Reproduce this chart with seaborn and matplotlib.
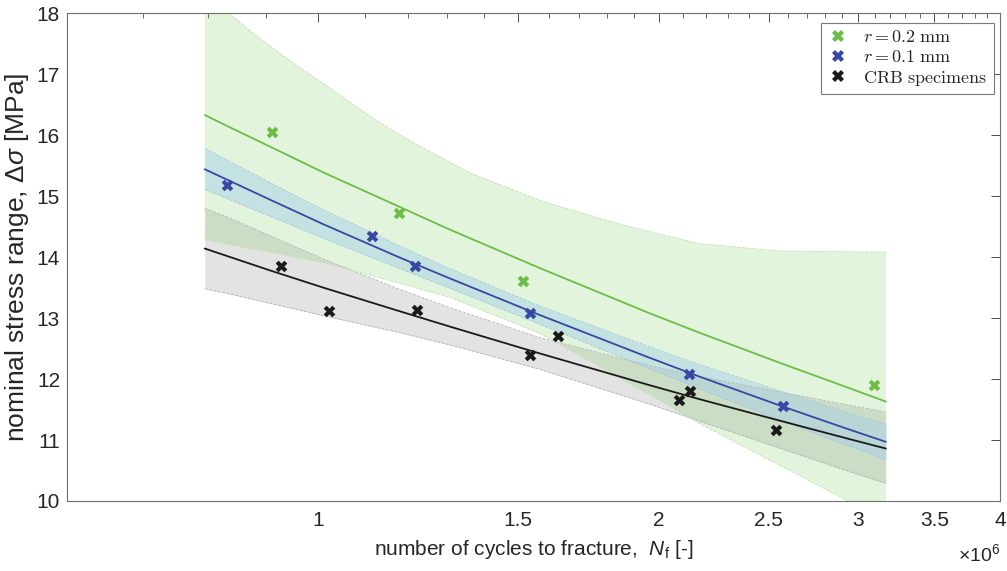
import numpy as np
import matplotlib
matplotlib.use("Agg")
import matplotlib.pyplot as plt
from matplotlib.ticker import FixedLocator, NullFormatter, FixedFormatter
from matplotlib.lines import Line2D
import seaborn as sns

# ---------------- data ----------------
# fitted curves / confidence bands, sampled along N (cycles)
nf_grid = [0.794e6, 0.833e6, 0.907e6, 1.010e6, 1.181e6, 1.307e6,
           1.569e6, 1.961e6, 2.171e6, 2.553e6, 2.925e6, 3.172e6]

green_fit = [16.33, 16.14, 15.81, 15.39, 14.82, 14.45, 13.82, 13.08, 12.76, 12.27, 11.87, 11.63]
green_lower = [14.29, 14.21, 14.08, 13.91, 13.57, 13.34, 12.75, 11.75, 11.27, 10.59, 10.02, 9.67]
# upper bound of the r = 0.2 mm band, read at its own N positions
green_up_N = [0.794e6, 0.833e6, 0.889e6, 0.951e6, 1.052e6, 1.123e6, 1.205e6,
              1.361e6, 1.569e6, 1.845e6, 2.171e6, 2.553e6, 3.172e6]
green_upper = [18.30, 18.00, 17.58, 17.18, 16.62, 16.25, 15.91,
               15.38, 14.93, 14.54, 14.22, 14.10, 14.08]

blue_fit = [15.44, 15.26, 14.94, 14.54, 13.99, 13.65, 13.05, 12.35, 12.04, 11.57, 11.19, 10.97]
blue_upper = [15.78, 15.58, 15.22, 14.78, 14.18, 13.81, 13.20, 12.53, 12.24, 11.81, 11.46, 11.26]
blue_lower = [15.11, 14.95, 14.67, 14.31, 13.81, 13.49, 12.90, 12.17, 11.84, 11.33, 10.92, 10.68]

crb_fit = [14.14, 14.01, 13.78, 13.50, 13.11, 12.86, 12.42, 11.90, 11.67, 11.32, 11.03, 10.86]
crb_upper = [14.80, 14.65, 14.35, 13.97, 13.47, 13.17, 12.68, 12.22, 12.04, 11.79, 11.58, 11.46]
crb_lower = [13.48, 13.40, 13.24, 13.04, 12.76, 12.56, 12.16, 11.59, 11.31, 10.87, 10.50, 10.29]

# test specimens
green_N = [0.911e6, 1.179e6, 1.516e6, 3.095e6]
green_S = [16.05, 14.72, 13.60, 11.91]
blue_N = [0.830e6, 1.116e6, 1.217e6, 1.538e6, 2.127e6, 2.574e6]
blue_S = [15.18, 14.35, 13.86, 13.09, 12.09, 11.55]
crb_N = [0.928e6, 1.023e6, 1.223e6, 1.538e6, 1.627e6, 2.084e6, 2.131e6, 2.538e6]
crb_S = [13.86, 13.11, 13.14, 12.40, 12.70, 11.66, 11.81, 11.17]

legend_labels = [r'$r = 0.2\ \mathrm{mm}$', r'$r = 0.1\ \mathrm{mm}$', r'$\mathrm{CRB\ specimens}$']
x_major = [1e6, 1.5e6, 2e6, 2.5e6, 3e6, 3.5e6, 4e6]
x_major_labels = ['1', '1.5', '2', '2.5', '3', '3.5', '4']
y_ticks = [10, 11, 12, 13, 14, 15, 16, 17, 18]

# ---------------- style ----------------
sns.set_theme(style="white")
plt.rcParams['font.family'] = ['Liberation Sans', 'DejaVu Sans']
plt.rcParams['mathtext.fontset'] = 'custom'
plt.rcParams['mathtext.rm'] = 'Liberation Sans'
plt.rcParams['mathtext.it'] = 'Liberation Sans:italic'

C_GREEN = '#6cbd45'
C_BLUE = '#3848a2'
C_BLACK = '#1a1a1a'

fig = plt.figure(figsize=(10.07, 5.71), dpi=100)
ax = fig.add_axes([0.0665, 0.1226, 0.9265, 0.8544])

# bands
ax.fill_between(nf_grid, crb_lower, crb_upper, color='#8c8c92', alpha=0.24, lw=0)
ax.fill(green_up_N + nf_grid[::-1], green_upper + green_lower[::-1],
        color='#74c850', alpha=0.2, lw=0)
ax.fill_between(nf_grid, blue_lower, blue_upper, color='#a2cdea', alpha=0.45, lw=0)

edge_kw = dict(ls='--', lw=0.6)
ax.plot(nf_grid, crb_lower, color='#b4b4b8', **edge_kw)
ax.plot(nf_grid, crb_upper, color='#b4b4b8', **edge_kw)
ax.plot(nf_grid, green_lower, color='#c2e0b4', **edge_kw)
ax.plot(green_up_N, green_upper, color='#c2e0b4', **edge_kw)
ax.plot(nf_grid, blue_lower, color='#a8c8e0', **edge_kw)
ax.plot(nf_grid, blue_upper, color='#a8c8e0', **edge_kw)

# fitted lines
sns.lineplot(x=nf_grid, y=green_fit, ax=ax, color=C_GREEN, lw=1.3, sort=False, estimator=None)
sns.lineplot(x=nf_grid, y=blue_fit, ax=ax, color=C_BLUE, lw=1.3, sort=False, estimator=None)
sns.lineplot(x=nf_grid, y=crb_fit, ax=ax, color=C_BLACK, lw=1.3, sort=False, estimator=None)

# specimens
sns.scatterplot(x=green_N, y=green_S, ax=ax, marker='X', s=70, color=C_GREEN, linewidth=0, zorder=5)
sns.scatterplot(x=blue_N, y=blue_S, ax=ax, marker='X', s=70, color=C_BLUE, linewidth=0, zorder=5)
sns.scatterplot(x=crb_N, y=crb_S, ax=ax, marker='X', s=70, color=C_BLACK, linewidth=0, zorder=5)

# axes
ax.set_xscale('log')
ax.set_xlim(6e5, 4e6)
ax.set_ylim(10, 18)
ax.xaxis.set_major_locator(FixedLocator(x_major))
ax.xaxis.set_major_formatter(FixedFormatter(x_major_labels))
minor = [v * 1e5 for v in range(7, 41) if v % 5 != 0]
ax.xaxis.set_minor_locator(FixedLocator(minor))
ax.xaxis.set_minor_formatter(NullFormatter())
ax.set_yticks(y_ticks)
ax.set_yticklabels([str(v) for v in y_ticks])

ax.tick_params(which='both', direction='in', top=True, right=True, colors='#4d4d4d',
               labelcolor='#262626', labelsize=15)
ax.tick_params(which='major', length=6.5, width=0.7)
ax.tick_params(which='minor', length=3.5, width=0.6)
ax.tick_params(axis='x', pad=7)
ax.tick_params(axis='y', pad=5)
for sp in ax.spines.values():
    sp.set_color('#6e6e6e')
    sp.set_linewidth(0.8)

ax.set_xlabel(r'number of cycles to fracture,  $N_\mathrm{f}$ [-]', fontsize=15, color='#262626', labelpad=6)
ax.set_ylabel(r'nominal stress range, $\Delta\sigma$ [MPa]', fontsize=19, color='#262626', labelpad=4)
fig.text(0.993, 0.03, r'$\times10^{6}$', ha='right', va='center', fontsize=14, color='#262626')

handles = [Line2D([], [], ls='none', marker='X', markersize=8, markeredgewidth=0, color=c)
           for c in (C_GREEN, C_BLUE, C_BLACK)]
leg = ax.legend(handles, legend_labels, loc='upper right', bbox_to_anchor=(0.9935, 0.98),
                prop={'size': 13, 'math_fontfamily': 'cm'}, frameon=True, fancybox=False,
                edgecolor='#7a7a7a', framealpha=1, handlelength=1.2, handletextpad=0.8,
                labelspacing=0.15, borderpad=0.35, borderaxespad=0)
leg.get_frame().set_linewidth(0.8)

fig.savefig('out.png', dpi=100)
